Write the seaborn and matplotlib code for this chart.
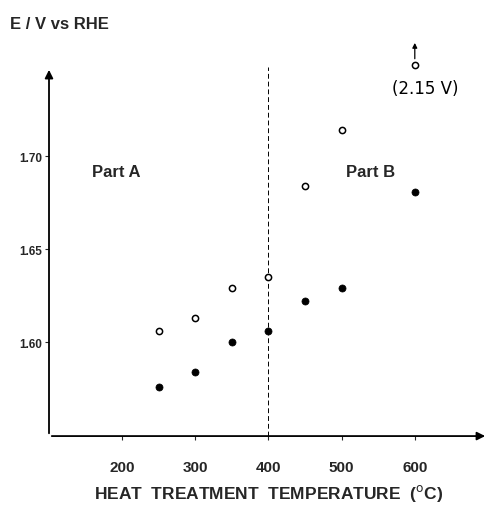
import numpy as np
import pandas as pd
import matplotlib
import matplotlib.pyplot as plt
import seaborn as sns

matplotlib.use("Agg")

# Data
temp_open = [250, 300, 350, 400, 450, 500]
e_open = [1.606, 1.613, 1.629, 1.635, 1.684, 1.714]
temp_filled = [250, 300, 350, 400, 450, 500, 600]
e_filled = [1.576, 1.584, 1.600, 1.606, 1.622, 1.629, 1.681]
# off-scale point (2.15 V), drawn at the top edge with an arrow
temp_off = [600]
e_off = [1.749]
off_label = "(2.15 V)"

x_ticks = [200, 300, 400, 500, 600]
y_ticks = [1.60, 1.65, 1.70]
y_ticklabels = ["1.60", "1.65", "1.70"]

sns.set_style("white")
plt.rcParams['font.family'] = ['Liberation Sans', 'DejaVu Sans']

fig = plt.figure(figsize=(4.91, 5.10), dpi=100)
ax = fig.add_axes([0.0998, 0.143, 0.894, 0.7235])

df_open = pd.DataFrame({"temp": temp_open, "E": e_open})
df_filled = pd.DataFrame({"temp": temp_filled, "E": e_filled})

sns.scatterplot(data=df_open, x="temp", y="E", ax=ax, marker="o", s=20,
                facecolor="white", edgecolor="black", linewidth=1.1, zorder=3)
sns.scatterplot(data=df_filled, x="temp", y="E", ax=ax, marker="o", s=26,
                color="black", edgecolor="black", linewidth=0.5, zorder=3)
ax.scatter(temp_off, e_off, s=20, facecolor="white", edgecolor="black",
           linewidth=1.1, zorder=3, clip_on=False)
ax.annotate("", xy=(temp_off[0], e_off[0] + 0.0135), xytext=(temp_off[0], e_off[0] + 0.002),
            arrowprops=dict(arrowstyle="-|>", color="black", lw=0.9, mutation_scale=7),
            annotation_clip=False)
ax.text(temp_off[0] + 14, e_off[0] - 0.012, off_label, ha="center", va="center",
        fontsize=12, family="DejaVu Sans Condensed", color="black")

ax.set_xlim(100, 700)
ax.set_ylim(1.5495, 1.748)

# dashed divider between part A and B
ax.axvline(400, color="black", lw=0.7, linestyle=(0, (5, 3)), zorder=1)

# axes with arrow heads
for s in ax.spines.values():
    s.set_visible(False)
ax.annotate("", xy=(0, 1.0), xytext=(0, 0), xycoords="axes fraction",
            arrowprops=dict(arrowstyle="-|>", color="black", lw=1.3, mutation_scale=12))
ax.annotate("", xy=(1.0, 0), xytext=(0, 0), xycoords="axes fraction",
            arrowprops=dict(arrowstyle="-|>", color="black", lw=1.3, mutation_scale=12))

ax.set_xticks(x_ticks)
ax.set_xticklabels([str(t) for t in x_ticks], fontsize=11, fontweight="bold")
ax.set_yticks(y_ticks)
ax.set_yticklabels(y_ticklabels, fontsize=8.5, fontweight="bold")
ax.tick_params(axis="x", direction="out", length=3, width=0.8, pad=14, bottom=True)
ax.tick_params(axis="y", direction="out", length=3, width=0.8, pad=2, left=True)
ax.set_xlabel("")
ax.set_ylabel("")

ax.text(192, 1.692, "Part A", fontsize=12, fontweight="bold", ha="center", va="center")
ax.text(540, 1.692, "Part B", fontsize=12, fontweight="bold", ha="center", va="center")

fig.text(0.02, 0.951, "E / V vs RHE", fontsize=12, fontweight="bold", ha="left", va="center")
fig.text(0.546, 0.033, "HEAT  TREATMENT  TEMPERATURE  ($^{\\rm o}$C)", fontsize=12.5,
         fontweight="bold", ha="center", va="center")

fig.savefig("out.png", dpi=100)
